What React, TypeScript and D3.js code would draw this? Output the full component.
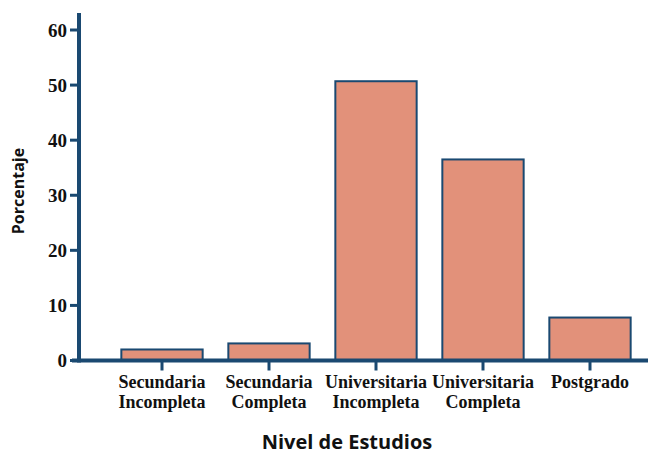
import * as React from "react";
import { scaleBand, scaleLinear } from "d3";

const categories = [
  ["Secundaria", "Incompleta"],
  ["Secundaria", "Completa"],
  ["Universitaria", "Incompleta"],
  ["Universitaria", "Completa"],
  ["Postgrado"],
];
const values = [2.0, 3.1, 50.7, 36.5, 7.8];
const yTicks = [0, 10, 20, 30, 40, 50, 60];

const AXIS = "#1a4971";
const FILL = "#e2917a";
const SERIF = "'Liberation Serif', 'DejaVu Serif', serif";
const SANS = "'Open Sans', 'Noto Sans', sans-serif";

export default function App() {
  const width = 648;
  const height = 456;
  const axisX = 79;
  const axisY = 360.5;

  const keys = categories.map((c) => c.join(" "));
  const x = scaleBand<string>()
    .domain(keys)
    .range([108.5, 643.5])
    .paddingInner(0.24)
    .paddingOuter(0.12);
  const y = scaleLinear().domain([0, 60]).range([axisY, 30]);

  return (
    <svg
      width={width}
      height={height}
      style={{ position: "absolute", left: 0, top: 0, background: "#fff" }}
    >
      {values.map((v, i) => (
        <rect
          key={keys[i]}
          x={x(keys[i])}
          y={y(v)}
          width={x.bandwidth()}
          height={axisY - y(v)}
          fill={FILL}
          stroke={AXIS}
          strokeWidth={2}
        />
      ))}

      {/* y axis */}
      <line x1={axisX} x2={axisX} y1={13} y2={axisY + 2} stroke={AXIS} strokeWidth={4} />
      {yTicks.map((t) => (
        <g key={t}>
          <line x1={axisX - 9} x2={axisX} y1={y(t)} y2={y(t)} stroke={AXIS} strokeWidth={3} />
          <text
            x={axisX - 12}
            y={y(t)}
            dy="0.35em"
            textAnchor="end"
            fontFamily={SERIF}
            fontWeight="bold"
            fontSize={19}
            fill="#111"
          >
            {t}
          </text>
        </g>
      ))}

      {/* x axis */}
      <line x1={72} x2={width} y1={axisY} y2={axisY} stroke={AXIS} strokeWidth={4} />
      {keys.map((k, i) => {
        const cx = (x(k) ?? 0) + x.bandwidth() / 2;
        return (
          <g key={k}>
            <line x1={cx} x2={cx} y1={axisY} y2={axisY + 10} stroke={AXIS} strokeWidth={3} />
            {categories[i].map((line, j) => (
              <text
                key={j}
                x={cx}
                y={388 + j * 19.5}
                textAnchor="middle"
                fontFamily={SERIF}
                fontWeight="bold"
                fontSize={18}
                fill="#111"
              >
                {line}
              </text>
            ))}
          </g>
        );
      })}

      <text
        transform="translate(24,191) rotate(-90)"
        textAnchor="middle"
        fontFamily={SANS}
        fontWeight="bold"
        fontSize={16}
        fill="#111"
      >
        Porcentaje
      </text>
      <text
        x={347}
        y={449}
        textAnchor="middle"
        fontFamily={SANS}
        fontWeight="bold"
        fontSize={20}
        fill="#111"
      >
        Nivel de Estudios
      </text>
    </svg>
  );
}
